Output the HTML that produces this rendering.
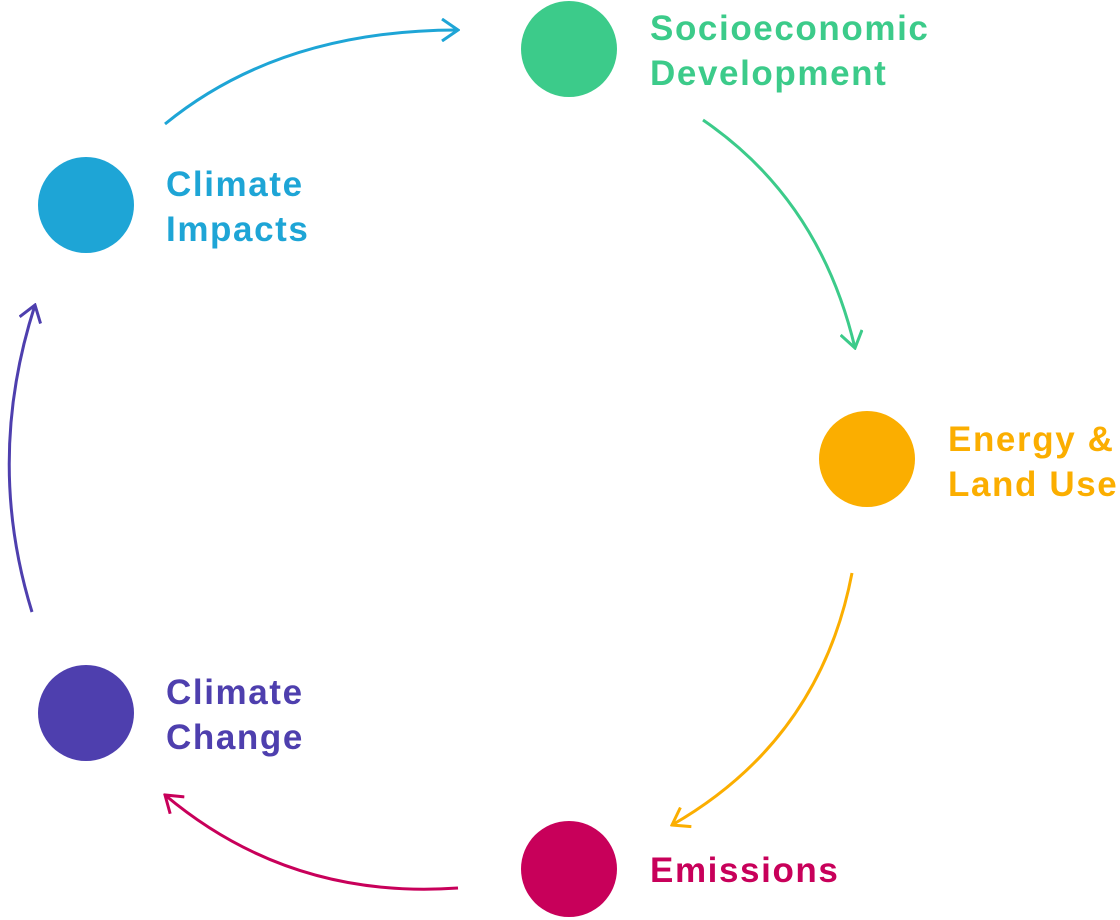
<!DOCTYPE html>
<html><head><meta charset="utf-8"><style>
html,body{margin:0;padding:0;background:#fff;width:1120px;height:920px;overflow:hidden}
svg{display:block}
text{font-family:"Liberation Sans",sans-serif;font-weight:bold;font-size:35px;letter-spacing:1.6px}
</style></head><body>
<svg width="1120" height="920" viewBox="0 0 1120 920">
<defs>
<marker id="mb" viewBox="0 0 24 24" refX="22" refY="12" markerWidth="24" markerHeight="24" markerUnits="userSpaceOnUse" orient="auto"><path d="M6,1 L22,12 L6,23" fill="none" stroke="#1ea5d6" stroke-width="3"/></marker>
<marker id="mg" viewBox="0 0 24 24" refX="22" refY="12" markerWidth="24" markerHeight="24" markerUnits="userSpaceOnUse" orient="auto"><path d="M6,1 L22,12 L6,23" fill="none" stroke="#3ccb8a" stroke-width="3"/></marker>
<marker id="my" viewBox="0 0 24 24" refX="22" refY="12" markerWidth="24" markerHeight="24" markerUnits="userSpaceOnUse" orient="auto"><path d="M6,1 L22,12 L6,23" fill="none" stroke="#fbae00" stroke-width="3"/></marker>
<marker id="mm" viewBox="0 0 24 24" refX="22" refY="12" markerWidth="24" markerHeight="24" markerUnits="userSpaceOnUse" orient="auto"><path d="M6,1 L22,12 L6,23" fill="none" stroke="#c8005a" stroke-width="3"/></marker>
<marker id="mp" viewBox="0 0 24 24" refX="22" refY="12" markerWidth="24" markerHeight="24" markerUnits="userSpaceOnUse" orient="auto"><path d="M6,1 L22,12 L6,23" fill="none" stroke="#4e3fae" stroke-width="3"/></marker>
</defs>
<path d="M165,124 Q280,30 458,30" fill="none" stroke="#1ea5d6" stroke-width="3" marker-end="url(#mb)"/>
<path d="M703,120 Q820,200 855,348" fill="none" stroke="#3ccb8a" stroke-width="3" marker-end="url(#mg)"/>
<path d="M852,573 Q820,740 672,825" fill="none" stroke="#fbae00" stroke-width="3" marker-end="url(#my)"/>
<path d="M458,888 Q290,900 165,795" fill="none" stroke="#c8005a" stroke-width="3" marker-end="url(#mm)"/>
<path d="M32,612 Q-15,460 35,305" fill="none" stroke="#4e3fae" stroke-width="3" marker-end="url(#mp)"/>
<circle cx="569" cy="49" r="48" fill="#3ccb8a"/>
<circle cx="86" cy="205" r="48" fill="#1ea5d6"/>
<circle cx="867" cy="459" r="48" fill="#fbae00"/>
<circle cx="86" cy="713" r="48" fill="#4e3fae"/>
<circle cx="569" cy="869" r="48" fill="#c8005a"/>
<text x="650" y="40" fill="#3ccb8a">Socioeconomic</text>
<text x="650" y="85" fill="#3ccb8a">Development</text>
<text x="166" y="196" fill="#1ea5d6">Climate</text>
<text x="166" y="241" fill="#1ea5d6">Impacts</text>
<text x="948" y="451" fill="#fbae00">Energy &amp;</text>
<text x="948" y="496" fill="#fbae00">Land Use</text>
<text x="166" y="704" fill="#4e3fae">Climate</text>
<text x="166" y="749" fill="#4e3fae">Change</text>
<text x="650" y="882" fill="#c8005a">Emissions</text>
</svg>
</body></html>
